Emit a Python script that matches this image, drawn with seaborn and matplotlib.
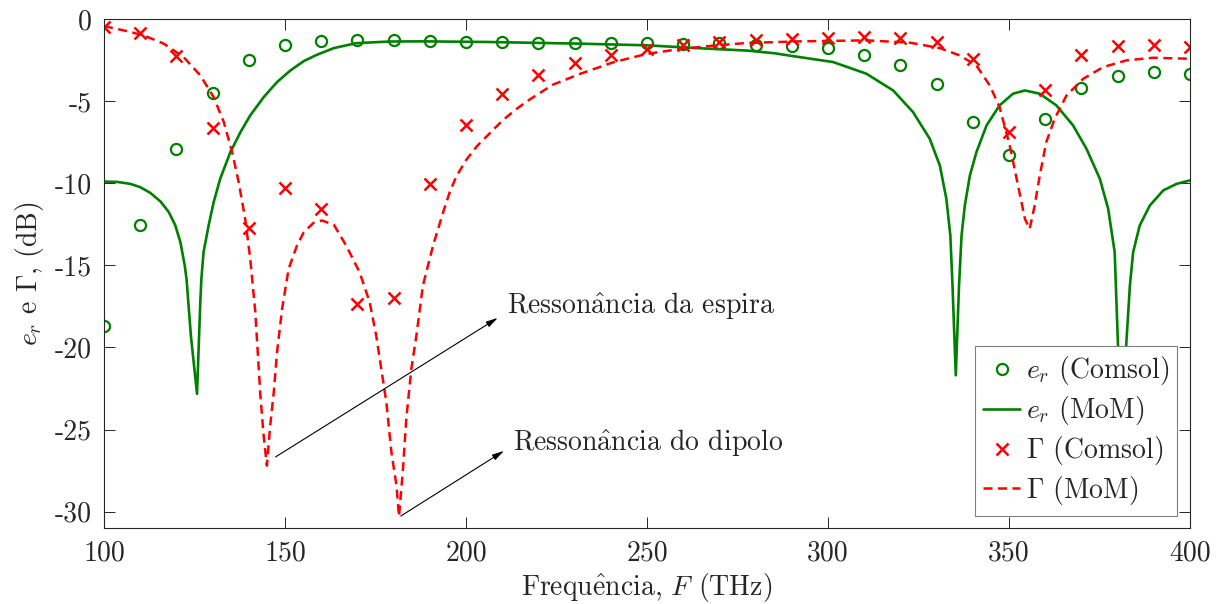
import matplotlib
matplotlib.use("Agg")
import matplotlib.pyplot as plt
import seaborn as sns

# Comsol samples (every 10 THz)
f_comsol = [100, 110, 120, 130, 140, 150, 160, 170, 180, 190, 200, 210, 220, 230, 240, 250,
            260, 270, 280, 290, 300, 310, 320, 330, 340, 350, 360, 370, 380, 390, 400]
er_comsol = [-18.69, -12.54, -7.90, -4.50, -2.50, -1.57, -1.32, -1.26, -1.26, -1.32, -1.38,
             -1.38, -1.44, -1.44, -1.44, -1.44, -1.50, -1.44, -1.57, -1.63, -1.75, -2.17,
             -2.78, -3.95, -6.28, -8.27, -6.09, -4.20, -3.46, -3.21, -3.33]
gamma_comsol = [-0.46, -0.88, -2.24, -6.66, -12.70, -10.28, -11.56, -17.35, -16.98, -10.03,
                -6.44, -4.55, -3.39, -2.66, -2.17, -1.81, -1.56, -1.38, -1.26, -1.20, -1.14,
                -1.08, -1.17, -1.40, -2.44, -6.90, -4.35, -2.22, -1.67, -1.60, -1.73]

# MoM radiation efficiency
f_er_mom = [100, 103.6, 107.3, 110.0, 112.8, 115.6, 117.9, 119.7, 121.1, 122.3, 122.8, 124.0,
            125.7, 126.6, 126.9, 127.5, 128.9, 130.3, 132.1, 134.9, 137.7, 140.4, 144.1, 147.8,
            151.5, 155.2, 158.8, 163.5, 169.7, 178.9, 188.1, 206.6, 231.4, 249.8, 263.7, 277.5,
            285.0, 292.2, 301.4, 310.6, 318.0, 323.5, 328.1, 330.9, 332.7, 333.8, 334.4, 335.3,
            336.2, 336.9, 337.8, 339.2, 341.0, 343.8, 347.4, 351.1, 354.4, 358.5, 363.1, 367.7,
            371.4, 375.1, 377.4, 379.2, 380.1, 381.2, 382.4, 383.4, 384.3, 386.1, 388.9, 392.6,
            396.3, 400]
er_mom = [-9.90, -9.92, -10.04, -10.24, -10.59, -11.11, -11.76, -12.57, -13.59, -15.00, -15.83,
          -19.28, -22.83, -17.25, -15.83, -14.20, -12.58, -11.15, -9.73, -8.11, -6.89, -5.87,
          -4.76, -3.84, -3.13, -2.56, -2.18, -1.77, -1.47, -1.37, -1.36, -1.40, -1.50, -1.60,
          -1.77, -1.92, -2.08, -2.32, -2.62, -3.33, -4.35, -5.67, -7.29, -8.92, -10.95, -13.18,
          -16.23, -21.70, -16.23, -13.18, -11.36, -9.53, -8.11, -6.48, -5.26, -4.55, -4.35,
          -4.55, -5.26, -6.48, -7.90, -9.73, -11.56, -14.20, -19.80, -25.00, -19.80, -16.23,
          -14.20, -12.58, -11.36, -10.44, -10.04, -9.83]

# MoM reflection coefficient
f_gamma_mom = [100, 105.4, 111.0, 116.5, 122.0, 126.6, 130.3, 133.1, 135.4, 137.2, 139.0, 140.4,
               141.8, 143.2, 144.1, 145.0, 145.9, 146.9, 147.8, 149.2, 151.0, 153.3, 155.2,
               157.9, 160.2, 163.5, 166.9, 170.6, 173.4, 175.2, 176.6, 178.0, 179.4, 180.8,
               181.5, 182.6, 183.5, 184.9, 186.3, 188.1, 190.9, 193.7, 195.5, 197.3, 200.0,
               203.0, 206.6, 210.0, 213.5, 217.6, 224.0, 231.4, 240.6, 249.8, 259.0, 268.3,
               277.5, 292.2, 310.6, 322.6, 330.9, 336.4, 341.0, 344.7, 347.4, 350.2, 352.5,
               354.4, 355.7, 357.1, 358.5, 360.3, 362.6, 365.9, 370.5, 376.0, 382.4, 389.8, 400]
gamma_mom = [-0.43, -0.69, -1.00, -1.50, -2.32, -3.43, -4.76, -6.28, -8.11, -9.93, -12.17,
             -14.60, -17.85, -22.93, -25.37, -27.20, -24.80, -22.73, -20.30, -17.65, -15.22,
             -13.80, -12.98, -12.41, -12.27, -12.53, -13.80, -15.42, -17.25, -19.28, -21.31,
             -23.34, -26.39, -28.42, -30.30, -27.40, -24.36, -21.31, -19.28, -16.23, -13.80,
             -11.76, -10.55, -9.60, -8.60, -7.75, -6.95, -6.20, -5.55, -4.90, -4.00, -3.35,
             -2.64, -2.13, -1.83, -1.62, -1.46, -1.36, -1.30, -1.44, -1.77, -2.22, -2.83, -4.05,
             -5.36, -7.70, -10.14, -12.17, -12.78, -11.36, -9.53, -7.50, -6.08, -4.65, -3.64,
             -2.93, -2.52, -2.36, -2.42]

x_ticks = [100, 150, 200, 250, 300, 350, 400]
y_ticks = [-30, -25, -20, -15, -10, -5, 0]

sns.set_style("ticks")
plt.rcParams["font.family"] = ["cmr10", "DejaVu Serif"]
plt.rcParams["mathtext.fontset"] = "cm"
plt.rcParams["axes.unicode_minus"] = False
plt.rcParams["axes.formatter.use_mathtext"] = False

FS = 20
GREEN = "#008000"
RED = "#ff0000"
DARK = "#262626"

fig = plt.figure(figsize=(12.22, 6.04), dpi=100)
ax = fig.add_axes([0.0851, 0.1258, 0.8887, 0.8427])

sns.lineplot(x=f_comsol, y=er_comsol, ax=ax, linestyle="none", marker="o", markersize=8,
             markerfacecolor="none", markeredgecolor=GREEN, markeredgewidth=1.6,
             color=GREEN, label=r"$e_r$ (Comsol)")
sns.lineplot(x=f_er_mom, y=er_mom, ax=ax, color=GREEN, linewidth=1.9,
             label=r"$e_r$ (MoM)")
sns.lineplot(x=f_comsol, y=gamma_comsol, ax=ax, linestyle="none", marker="x", markersize=8.5,
             markeredgecolor=RED, markeredgewidth=1.8, color=RED,
             label=r"$\Gamma$ (Comsol)")
sns.lineplot(x=f_gamma_mom, y=gamma_mom, ax=ax, color=RED, linewidth=1.8,
             linestyle=(0, (3.6, 2.2)), label=r"$\Gamma$ (MoM)")

ax.set_xlim(100, 400)
ax.set_ylim(-31, 0)
ax.set_xticks(x_ticks)
ax.set_yticks(y_ticks)
ax.set_xticklabels([str(v) for v in x_ticks])
ax.set_yticklabels([str(v) for v in y_ticks])
ax.tick_params(direction="in", top=True, right=True, length=8, width=0.7,
               colors=DARK, labelsize=FS, pad=9)
for side in ax.spines.values():
    side.set_visible(True)
    side.set_color(DARK)
    side.set_linewidth(0.8)

# accented letters go through mathtext so they stay in Computer Modern
ax.set_xlabel(r"Frequ$\hat{\mathrm{e}}$ncia, $F$ (THz)", fontsize=FS, color=DARK, labelpad=3)
ax.set_ylabel(r"$e_r$ e $\Gamma$, (dB)", fontsize=FS, color=DARK, labelpad=6)

# resonance annotations
arrow = dict(arrowstyle="-|>,head_length=0.7,head_width=0.18", color="black", lw=0.8,
             shrinkA=0, shrinkB=0)
ax.annotate("", xy=(208.8, -18.2), xytext=(147.4, -26.67), arrowprops=arrow)
ax.text(211.2, -17.5, r"Resson$\hat{\mathrm{a}}$ncia da espira", fontsize=FS,
        va="center", ha="left")
ax.annotate("", xy=(210.5, -26.3), xytext=(182.0, -30.27), arrowprops=arrow)
ax.text(212.9, -25.8, r"Resson$\hat{\mathrm{a}}$ncia do dipolo", fontsize=FS,
        va="center", ha="left")

handles, labels = ax.get_legend_handles_labels()
leg = ax.legend(handles, labels, loc="lower right", fontsize=FS, frameon=True,
                fancybox=False, framealpha=1, edgecolor="#7f7f7f",
                handlelength=1.35, handletextpad=0.2, labelspacing=0.25,
                borderpad=0.3, borderaxespad=0.45)
leg.get_frame().set_linewidth(0.8)

fig.savefig("out.png", dpi=100)
